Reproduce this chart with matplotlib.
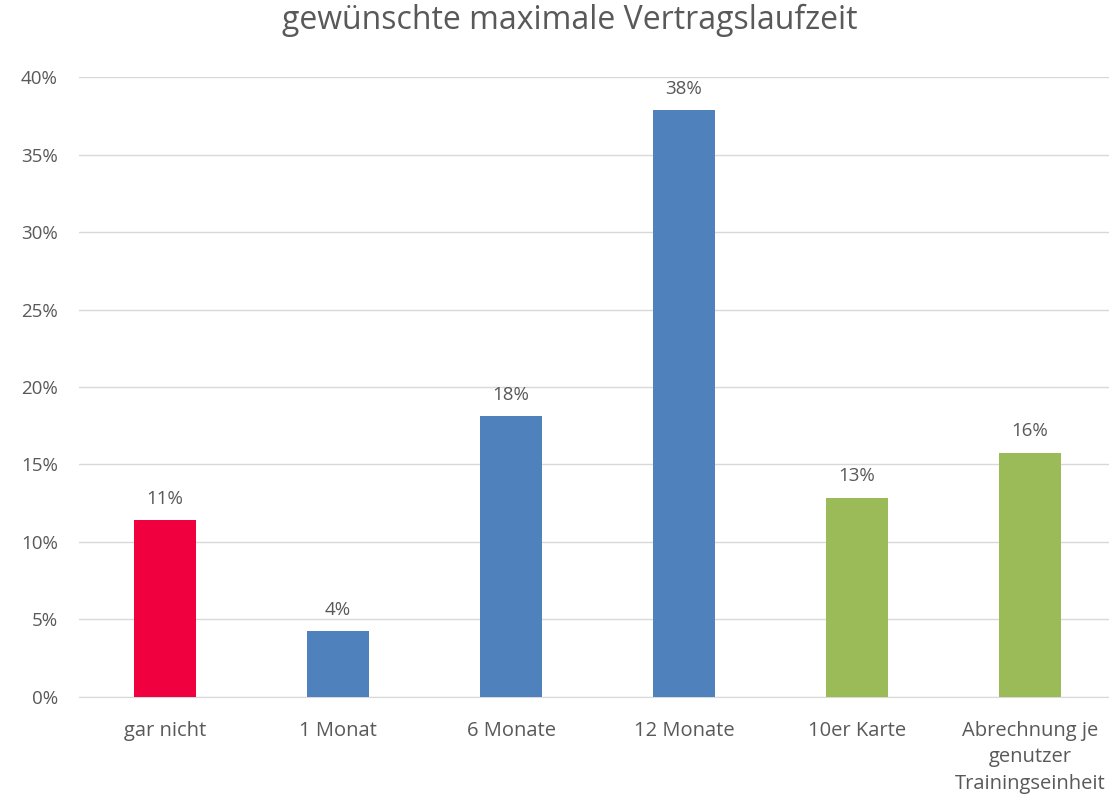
import matplotlib
matplotlib.use('Agg')
import matplotlib.pyplot as plt
from matplotlib.ticker import PercentFormatter

# Daten
categories = ['gar nicht', '1 Monat', '6 Monate', '12 Monate', '10er Karte',
              'Abrechnung je\ngenutzer\nTrainingseinheit']
values = [11.4, 4.25, 18.1, 37.85, 12.85, 15.75]
colors = ['#F0003F', '#4F81BD', '#4F81BD', '#4F81BD', '#9BBB59', '#9BBB59']
yticks = [0, 5, 10, 15, 20, 25, 30, 35, 40]

plt.rcParams['font.family'] = ['Open Sans', 'DejaVu Sans']
text_col = '#595959'

fig = plt.figure(figsize=(11.09, 7.99), dpi=100)
ax = fig.add_axes([0.0708, 0.1277, 0.936, 0.7759])

x = range(len(categories))
bars = ax.bar(x, values, width=0.36, color=colors, zorder=3)

# Datenbeschriftungen
for xi, v in zip(x, values):
    ax.annotate(f'{round(v)}%', (xi, v), xytext=(0, 9), textcoords='offset points',
                ha='center', va='bottom', fontsize=13.5, color=text_col)

ax.set_xlim(-0.5, len(categories) - 0.5)
ax.set_ylim(0, 40)
ax.set_yticks(yticks)
ax.yaxis.set_major_formatter(PercentFormatter(decimals=0))
ax.set_xticks(list(x))
ax.set_xticklabels(categories, fontsize=14.5, color=text_col, linespacing=1.45)
ax.tick_params(axis='y', labelsize=13.5, labelcolor=text_col, length=0, pad=15)
ax.tick_params(axis='x', length=0, pad=17)

ax.grid(axis='y', color='#D9D9D9', linewidth=1, zorder=0)
for s in ['top', 'right', 'left']:
    ax.spines[s].set_visible(False)
ax.spines['bottom'].set_color('#D9D9D9')

fig.suptitle('gewünschte maximale Vertragslaufzeit', fontsize=23, color=text_col,
             x=0.514, y=0.995, va='top')

fig.savefig('out.png', dpi=100)
